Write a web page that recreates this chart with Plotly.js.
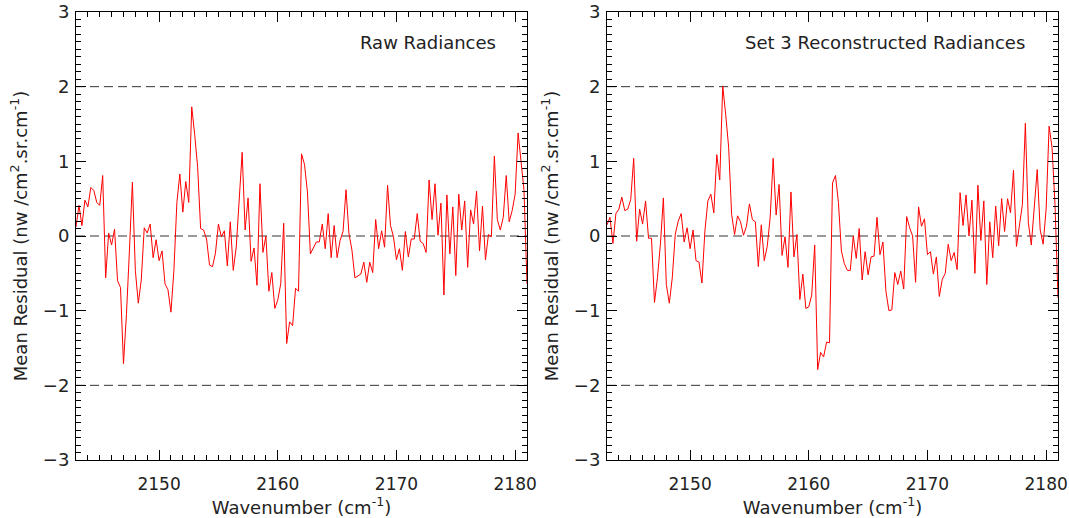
<!DOCTYPE html>
<html>
<head>
<meta charset="utf-8">
<script src="https://cdn.plot.ly/plotly-3.0.1.min.js"></script>
<style>html,body{margin:0;padding:0;background:#fff;}#chart{width:1069px;height:518px;}</style>
</head>
<body>
<div id="chart"></div>
<script>
// Spectral grid: 0.25 cm-1 sampling from 2143 to 2181 cm-1
const waveStart = 2143;
const waveStep = 0.25;

// Mean residual, raw radiances (left panel)
const rawResidual = [
 0.12, 0.41, 0.14, 0.48, 0.39, 0.65, 0.61, 0.45, 0.41, 0.81,
-0.56, 0.04,-0.12, 0.09,-0.60,-0.69,-1.71,-1.05,-0.20, 0.72,
-0.46,-0.90,-0.59, 0.11, 0.04, 0.16,-0.29,-0.05,-0.33,-0.20,
-0.64,-0.72,-1.02,-0.46, 0.45, 0.83, 0.32, 0.73, 0.45, 1.73,
 1.36, 0.92, 0.10, 0.08,-0.04,-0.39,-0.41,-0.23, 0.16,-0.01,
 0.07,-0.40, 0.19,-0.46,-0.15, 0.52, 1.12, 0.08, 0.51,-0.34,
-0.16,-0.66, 0.70,-0.22, 0.00,-0.74,-0.49,-0.97,-0.86,-0.64,
 0.17,-1.44,-1.15,-1.20,-0.70,-0.74, 1.10, 0.96, 0.59,-0.24,
-0.15,-0.08,-0.08, 0.16,-0.17, 0.30,-0.29, 0.14,-0.29,-0.06,
 0.06, 0.62, 0.03,-0.19,-0.56,-0.53,-0.51,-0.35,-0.62,-0.35,
-0.49, 0.22,-0.17, 0.07,-0.15, 0.68, 0.14,-0.01,-0.32,-0.17,
-0.46, 0.06,-0.28,-0.04,-0.04, 0.30,-0.07,-0.10,-0.22, 0.75,
 0.22, 0.70, 0.01, 0.44,-0.79, 0.55,-0.24, 0.39,-0.53, 0.56,
 0.08, 0.47,-0.42, 0.35, 0.16, 0.60,-0.20, 0.40,-0.32, 0.02,
-0.01, 1.07, 0.22, 0.08, 0.25, 0.81, 0.19, 0.34, 0.56, 1.38,
 1.01, 0.61,-0.64
];

// Mean residual, set 3 reconstructed radiances (right panel)
const set3Residual = [
 0.15, 0.25,-0.10, 0.30, 0.36, 0.52, 0.34, 0.36, 0.49, 1.04,
-0.07, 0.36, 0.16, 0.47,-0.03,-0.03,-0.89,-0.56,-0.11, 0.51,
-0.65,-0.90,-0.56, 0.02, 0.20, 0.30,-0.08, 0.11,-0.17, 0.08,
-0.33,-0.35,-0.63, 0.07, 0.47, 0.56, 0.31, 1.09, 0.75, 2.01,
 1.63, 1.19, 0.29, 0.02, 0.27, 0.19, 0.01, 0.13, 0.43, 0.22,
 0.19,-0.41, 0.15,-0.33,-0.14, 0.25, 1.04, 0.28, 0.69,-0.26,
-0.01,-0.42, 0.59,-0.28, 0.02,-0.85,-0.51,-0.97,-0.95,-0.79,
-0.12,-1.79,-1.56,-1.62,-1.42,-1.43, 0.71, 0.81, 0.45,-0.20,
-0.37,-0.46,-0.46, 0.00,-0.30, 0.10,-0.59,-0.21,-0.52,-0.28,
-0.27, 0.25,-0.25,-0.08,-0.74,-1.00,-0.99,-0.49,-0.65,-0.47,
-0.71, 0.26, 0.11, 0.00,-0.62, 0.39, 0.13, 0.23,-0.25,-0.21,
-0.51,-0.28,-0.81,-0.58,-0.50,-0.11,-0.33,-0.22,-0.45, 0.58,
 0.14, 0.55, 0.00, 0.48,-0.50, 0.68,-0.06, 0.47,-0.65, 0.19,
-0.29, 0.40,-0.13, 0.50, 0.06, 0.50, 0.31, 0.88,-0.14, 0.18,
 0.42, 1.51, 0.18,-0.12, 0.40, 0.89, 0.08,-0.11, 0.36, 1.47,
 1.18, 0.42,-0.83
];

const panelTitles = ["Raw Radiances", "Set 3 Reconstructed Radiances"];
const xTickVals = [2150, 2160, 2170, 2180];
const yTickVals = [-3, -2, -1, 0, 1, 2, 3];
const refLevels = [-2, 0, 2];

const wavenumber = rawResidual.map((_, i) => waveStart + i * waveStep);

const FONT = "DejaVu Sans, Liberation Sans, sans-serif";
const TXT = "#222";
const FS = 18;

const traces = [
  {x: wavenumber, y: rawResidual, type: "scatter", mode: "lines",
   line: {color: "#ff0000", width: 1}, xaxis: "x", yaxis: "y", hoverinfo: "x+y"},
  {x: wavenumber, y: set3Residual, type: "scatter", mode: "lines",
   line: {color: "#ff0000", width: 1}, xaxis: "x2", yaxis: "y2", hoverinfo: "x+y"}
];

function xAxis(domain, anchor) {
  return {
    domain: domain, anchor: anchor, range: [2143, 2181],
    tickvals: xTickVals, ticks: "inside", ticklen: 10, tickwidth: 1, tickcolor: "#000",
    minor: {dtick: 1, ticks: "inside", ticklen: 5, tickwidth: 1, tickcolor: "#000"},
    showline: true, linecolor: "#000", linewidth: 1, mirror: "allticks",
    showgrid: false, zeroline: false,
    ticklabelstandoff: 9,
    tickfont: {family: FONT, size: 17, color: TXT},
    title: {text: "Wavenumber (cm<sup>-1</sup>)", font: {family: FONT, size: FS, color: TXT}, standoff: 7},
    automargin: false
  };
}
function yAxis(anchor) {
  return {
    domain: [58/518, 506/518], anchor: anchor, range: [-3, 3],
    tickvals: yTickVals, ticks: "inside", ticklen: 10, tickwidth: 1, tickcolor: "#000",
    minor: {dtick: 0.1, ticks: "inside", ticklen: 5, tickwidth: 1, tickcolor: "#000"},
    showline: true, linecolor: "#000", linewidth: 1, mirror: "allticks",
    showgrid: false, zeroline: false,
    ticklabelstandoff: 2,
    tickfont: {family: FONT, size: FS, color: TXT},
    title: {text: "Mean Residual (nw /cm<sup>2</sup>.sr.cm<sup>-1</sup>)", font: {family: FONT, size: FS, color: TXT}, standoff: 10},
    automargin: false
  };
}

const shapes = [];
["x", "x2"].forEach((xa, k) => {
  const ya = k === 0 ? "y" : "y2";
  refLevels.forEach(v => {
    shapes.push({type: "line", xref: xa + " domain", yref: ya, x0: 0, x1: 1, y0: v, y1: v,
      line: {color: "#333", width: 1, dash: "9px,5px"}, layer: "below"});
  });
});

const layout = {
  width: 1069, height: 518,
  margin: {l: 0, r: 0, t: 0, b: 0},
  paper_bgcolor: "#fff", plot_bgcolor: "#fff",
  showlegend: false,
  xaxis: xAxis([76/1069, 527/1069], "y"),
  yaxis: yAxis("x"),
  xaxis2: xAxis([607/1069, 1058/1069], "y2"),
  yaxis2: yAxis("x2"),
  shapes: shapes,
  annotations: [
    {text: panelTitles[0], xref: "paper", yref: "paper", x: 498/1069, y: 1 - 43/518,
     xanchor: "right", yanchor: "middle", showarrow: false, font: {family: FONT, size: FS, color: TXT}},
    {text: panelTitles[1], xref: "paper", yref: "paper", x: 1027/1069, y: 1 - 43/518,
     xanchor: "right", yanchor: "middle", showarrow: false, font: {family: FONT, size: FS, color: TXT}}
  ]
};

Plotly.newPlot("chart", traces, layout, {displayModeBar: false, staticPlot: true});
</script>
</body>
</html>
